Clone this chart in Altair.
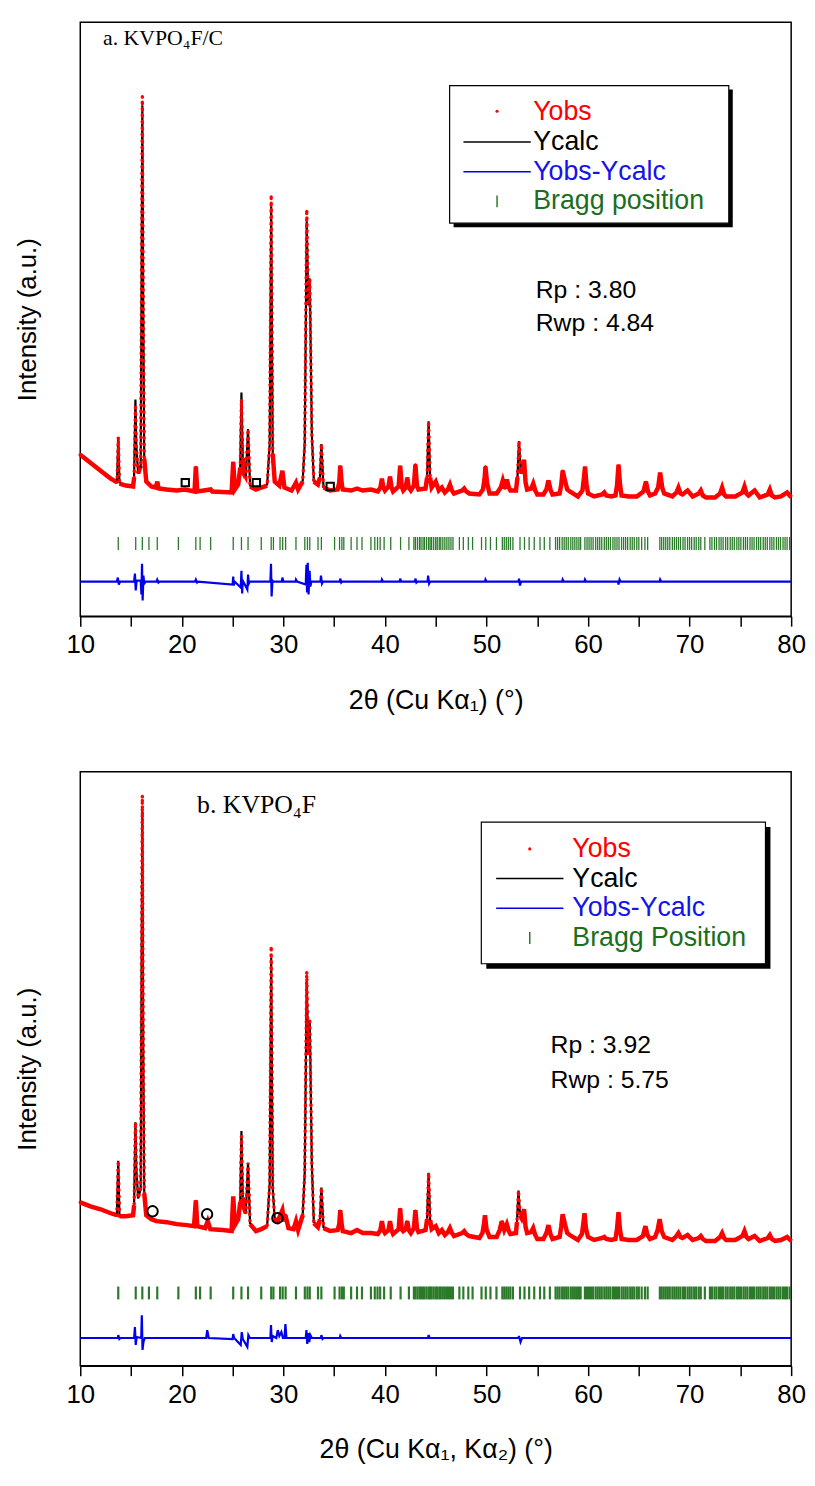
import altair as alt
import pandas as pd

# ---------------- panel a : KVPO4F/C  (2theta, Yobs in a.u.) ----------------
profile_a = [(10.0, 163), (10.5, 159), (11.0, 155), (11.5, 151), (12.0, 147), (12.5, 143), (13.0, 139),
             (13.5, 136), (13.62, 135), (13.74, 181), (13.86, 134), (14.5, 132), (15.2, 131), (15.3, 140),
             (15.43, 211), (15.52, 172), (15.7, 144), (15.95, 152), (16.04, 351), (16.11, 525), (16.2, 314),
             (16.3, 159), (16.5, 136), (17.0, 131), (17.45, 130), (17.58, 136), (17.72, 129), (18.5, 128),
             (19.5, 127), (20.3, 128), (21.25, 126), (21.38, 151), (21.52, 126), (22.84, 128), (23.0, 126),
             (24.9, 125), (25.06, 156), (25.22, 128), (25.55, 133), (25.75, 150), (25.87, 219), (26.0, 160),
             (26.1, 144), (26.3, 140), (26.52, 189), (26.72, 131), (27.3, 128), (27.82, 130), (28.4, 132),
             (28.65, 174), (28.8, 426), (28.95, 164), (29.15, 136), (29.6, 132), (29.9, 147), (30.1, 130),
             (30.8, 127), (31.24, 135), (31.45, 128), (31.9, 136), (32.1, 174), (32.3, 411), (32.45, 314),
             (32.6, 341), (32.8, 184), (33.0, 136), (33.4, 133), (33.6, 140), (33.74, 174), (33.95, 130),
             (34.6, 127), (35.35, 128), (35.5, 135), (35.6, 152), (35.75, 133), (35.85, 128), (36.67, 127),
             (37.25, 129), (37.8, 127), (38.62, 128), (39.3, 126), (39.55, 130), (39.7, 139), (39.85, 130),
             (40.0, 127), (40.35, 131), (40.5, 141), (40.65, 130), (40.8, 126), (41.35, 131), (41.5, 152),
             (41.65, 131), (41.8, 127), (42.05, 130), (42.2, 140), (42.35, 130), (42.55, 127), (42.85, 132),
             (43.0, 153), (43.15, 132), (43.3, 128), (44.0, 129), (44.15, 140), (44.3, 197), (44.45, 140),
             (44.6, 130), (45.0, 136), (45.3, 127), (45.6, 130), (45.9, 125), (46.2, 128), (46.4, 133),
             (46.6, 127), (46.8, 124), (47.6, 127), (47.8, 129), (48.0, 126), (48.3, 124), (49.3, 123),
             (49.65, 128), (49.8, 138), (49.9, 151), (50.05, 135), (50.3, 124), (51.0, 124), (51.4, 130),
             (51.6, 137), (51.8, 129), (52.0, 138), (52.2, 130), (52.35, 127), (52.9, 127), (53.05, 140),
             (53.2, 177), (53.35, 150), (53.45, 144), (53.7, 158), (53.85, 135), (54.0, 128), (54.4, 129),
             (54.6, 134), (54.8, 127), (55.0, 123), (55.6, 123), (55.9, 128), (56.1, 137), (56.3, 128),
             (56.5, 123), (57.2, 124), (57.35, 132), (57.5, 147), (57.75, 136), (57.95, 128), (58.2, 126),
             (59.0, 121), (59.45, 127), (59.6, 140), (59.7, 151), (59.85, 133), (60.0, 124), (60.6, 121),
             (61.4, 123), (61.6, 125), (61.8, 122), (62.3, 121), (62.7, 122), (62.85, 132), (63.0, 153),
             (63.15, 133), (63.3, 122), (64.0, 121), (64.8, 121), (65.45, 126), (65.7, 136), (65.9, 126),
             (66.1, 122), (66.6, 124), (66.9, 130), (67.1, 145), (67.3, 130), (67.5, 124), (68.3, 121),
             (68.7, 125), (68.9, 130), (69.1, 124), (69.3, 123), (69.8, 127), (70.3, 121), (70.9, 124),
             (71.1, 127), (71.3, 122), (71.6, 120), (72.5, 120), (73.0, 124), (73.2, 130), (73.4, 123),
             (73.6, 121), (74.5, 121), (75.2, 125), (75.4, 131), (75.6, 124), (75.8, 122), (76.4, 127),
             (76.9, 120), (77.7, 123), (77.9, 128), (78.1, 122), (78.4, 120), (79.0, 121), (79.6, 125),
             (80.0, 120)]
ycalc_peaks_a = {15.43: 219, 16.11: 516, 25.87: 226, 28.8: 414, 32.3: 399}

diff_a = [(10.0, 35), (13.6, 35), (13.7, 39), (13.8, 32), (13.9, 35), (15.3, 35), (15.38, 43), (15.46, 26),
          (15.55, 36), (15.95, 36), (16.02, 22), (16.08, 53), (16.14, 16), (16.22, 41), (16.3, 33),
          (16.45, 35), (17.5, 35), (17.58, 37), (17.7, 34), (17.8, 35), (21.3, 35), (21.38, 37),
          (21.5, 34), (21.6, 35), (25.0, 32), (25.06, 40), (25.12, 31), (25.2, 35), (25.8, 29),
          (25.87, 46), (25.94, 23), (26.0, 36), (26.45, 27), (26.52, 42), (26.6, 33), (26.7, 35),
          (28.72, 35), (28.78, 53), (28.84, 20), (28.92, 36), (29.0, 35), (29.85, 35), (29.9, 39),
          (30.0, 35), (31.2, 35), (31.24, 37), (31.35, 35), (32.2, 32), (32.27, 52), (32.33, 24),
          (32.4, 54), (32.48, 22), (32.58, 46), (32.66, 30), (32.75, 35), (33.65, 35), (33.7, 41),
          (33.8, 33), (33.9, 35), (35.55, 35), (35.6, 38), (35.7, 34), (35.8, 35), (39.65, 35),
          (39.7, 37), (39.8, 35), (41.45, 35), (41.5, 38), (41.6, 35), (42.95, 35), (43.0, 38),
          (43.1, 34), (43.2, 35), (44.2, 35), (44.25, 41), (44.35, 33), (44.45, 35), (49.85, 35),
          (49.9, 37), (50.0, 35), (53.15, 35), (53.2, 38), (53.3, 31), (53.4, 35), (57.45, 35),
          (57.5, 37), (57.6, 35), (59.65, 35), (59.7, 37), (59.8, 35), (62.95, 35), (63.0, 32),
          (63.1, 37), (63.2, 35), (67.05, 35), (67.1, 37), (67.2, 35), (80.0, 35)]

bragg_pos = [13.74, 15.46, 16.11, 16.76, 17.58, 19.66, 21.38, 21.80, 22.84, 25.06, 25.87, 26.52, 27.82,
             28.80, 29.02, 29.67, 29.93, 30.22, 31.24, 32.11, 32.37, 32.60, 33.41, 33.74, 35.04, 35.53,
             35.76, 35.95, 36.67, 37.25, 37.74, 38.62, 39.00, 39.27, 39.53, 39.92, 40.57, 41.54, 42.36,
             42.85, 43.00, 43.20, 43.40, 43.55, 43.75, 43.90, 44.10, 44.30, 44.45, 44.60, 44.80, 45.00,
             45.15, 45.35, 45.50, 45.70, 45.90, 46.10, 46.30, 46.50, 46.70, 47.33, 47.72, 48.21, 48.63,
             49.51, 49.93, 50.39, 50.98, 51.56, 51.75, 51.95, 52.15, 52.35, 52.60, 53.30, 53.74, 54.20,
             54.70, 55.27, 55.69, 56.24, 56.80, 57.00, 57.20, 57.45, 57.65, 57.85, 58.05, 58.30, 58.50,
             58.70, 58.90, 59.10, 59.27, 59.69, 59.90, 60.10, 60.30, 60.50, 60.75, 60.95, 61.15, 61.35,
             61.60, 61.80, 62.00, 62.20, 62.45, 62.65, 62.85, 63.05, 63.30, 63.50, 63.70, 63.90, 64.15,
             64.35, 64.55, 64.80, 65.00, 65.28, 65.60, 65.87, 67.07, 67.25, 67.45, 67.65, 67.85, 68.05,
             68.30, 68.50, 68.70, 68.90, 69.10, 69.35, 69.55, 69.80, 70.00, 70.20, 70.45, 70.65, 70.90,
             71.10, 71.50, 72.00, 72.20, 72.45, 72.65, 72.90, 73.10, 73.30, 73.55, 73.75, 74.00, 74.20,
             74.40, 74.65, 74.85, 75.05, 75.30, 75.50, 75.70, 75.95, 76.15, 76.35, 76.60, 76.80, 77.00,
             77.25, 77.45, 77.65, 77.90, 78.10, 78.30, 78.55, 78.75, 78.95, 79.20, 79.40, 79.60, 79.85]

square_marks = [(20.34, 135), (27.34, 135), (34.61, 131)]

# ---------------- panel b : KVPO4F ----------------
profile_b = [(10.0, 165), (10.5, 163), (11.0, 161), (12.0, 158), (13.0, 154), (13.6, 152), (13.74, 207),
             (13.86, 151), (14.5, 151), (15.2, 152), (15.3, 162), (15.43, 246), (15.52, 199), (15.7, 169),
             (15.95, 179), (16.04, 414), (16.11, 576), (16.2, 324), (16.3, 174), (16.5, 152), (17.0, 148),
             (17.5, 146), (18.5, 145), (19.5, 143), (20.5, 142), (21.2, 141), (21.38, 167), (21.52, 141),
             (22.3, 139), (22.55, 146), (22.8, 138), (24.0, 137), (24.9, 136), (25.06, 171), (25.22, 142),
             (25.55, 148), (25.75, 165), (25.87, 232), (26.0, 170), (26.1, 160), (26.3, 154), (26.52, 205),
             (26.72, 143), (27.3, 136), (27.82, 138), (28.4, 141), (28.65, 184), (28.8, 424), (28.95, 179),
             (29.15, 148), (29.45, 146), (29.7, 152), (29.9, 157), (30.05, 146), (30.2, 152), (30.5, 139),
             (31.0, 138), (31.24, 146), (31.45, 137), (31.9, 152), (32.1, 194), (32.3, 398), (32.45, 314),
             (32.6, 348), (32.8, 204), (33.0, 144), (33.4, 140), (33.6, 148), (33.74, 180), (33.95, 139),
             (34.6, 136), (35.35, 137), (35.5, 143), (35.6, 157), (35.75, 142), (35.85, 136), (36.67, 134),
             (37.25, 137), (37.8, 134), (38.62, 134), (39.3, 133), (39.55, 137), (39.7, 146), (39.85, 137),
             (40.0, 134), (40.35, 137), (40.5, 146), (40.65, 137), (40.8, 133), (41.35, 138), (41.5, 159),
             (41.65, 138), (41.8, 136), (42.05, 138), (42.2, 146), (42.35, 137), (42.55, 134), (42.85, 139),
             (43.0, 157), (43.15, 139), (43.3, 135), (44.0, 137), (44.15, 148), (44.3, 195), (44.45, 147),
             (44.6, 138), (45.0, 141), (45.3, 134), (45.6, 137), (45.9, 132), (46.2, 135), (46.4, 139),
             (46.6, 134), (46.8, 131), (47.6, 134), (47.8, 136), (48.0, 133), (48.3, 131), (49.3, 129),
             (49.6, 134), (49.75, 143), (49.85, 152), (50.0, 138), (50.3, 130), (51.0, 130), (51.3, 137),
             (51.5, 146), (51.75, 137), (52.0, 143), (52.2, 136), (52.35, 133), (52.9, 134), (53.0, 145),
             (53.15, 177), (53.3, 152), (53.45, 149), (53.7, 158), (53.85, 140), (54.0, 134), (54.4, 135),
             (54.6, 139), (54.8, 132), (55.0, 128), (55.6, 128), (55.9, 134), (56.1, 142), (56.3, 133),
             (56.5, 128), (57.2, 130), (57.35, 140), (57.5, 153), (57.75, 142), (57.95, 134), (58.2, 132),
             (59.0, 127), (59.4, 133), (59.55, 145), (59.65, 154), (59.8, 138), (60.0, 130), (60.6, 127),
             (61.4, 129), (61.6, 130), (61.8, 128), (62.3, 127), (62.7, 128), (62.85, 138), (63.0, 155),
             (63.15, 137), (63.3, 128), (64.0, 127), (64.8, 127), (65.4, 131), (65.65, 141), (65.85, 132),
             (66.1, 128), (66.6, 130), (66.85, 137), (67.05, 148), (67.25, 136), (67.5, 130), (68.3, 127),
             (68.7, 131), (68.9, 134), (69.1, 130), (69.3, 129), (69.8, 132), (70.3, 127), (70.9, 129),
             (71.1, 131), (71.3, 128), (71.6, 126), (72.5, 126), (73.0, 130), (73.2, 134), (73.4, 129),
             (73.6, 127), (74.5, 127), (75.2, 131), (75.4, 136), (75.6, 130), (75.8, 128), (76.4, 131),
             (76.9, 126), (77.7, 129), (77.9, 132), (78.1, 128), (78.4, 126), (79.0, 127), (79.6, 130),
             (80.0, 126)]
ycalc_peaks_b = {16.11: 561, 25.87: 237, 28.8: 412, 29.45: 136, 32.3: 389}

diff_b = [(10.0, 28), (13.7, 28), (13.74, 31), (13.85, 27), (13.95, 28), (15.3, 28), (15.38, 39), (15.46, 21),
          (15.55, 29), (16.0, 28), (16.06, 51), (16.13, 16), (16.22, 24), (16.35, 28), (22.4, 28),
          (22.5, 36), (22.65, 28), (25.0, 27), (25.06, 32), (25.15, 28), (25.8, 21), (25.9, 34), (26.0, 27),
          (26.45, 19), (26.55, 31), (26.7, 28), (28.72, 28), (28.78, 41), (28.85, 24), (28.95, 30),
          (29.3, 28), (29.45, 36), (29.6, 30), (29.8, 34), (29.95, 28), (30.1, 28), (30.2, 42), (30.3, 28),
          (32.2, 28), (32.27, 36), (32.35, 22), (32.45, 33), (32.55, 24), (32.65, 31), (32.8, 28),
          (33.7, 28), (33.74, 31), (33.85, 27), (33.95, 28), (35.55, 28), (35.6, 30), (35.7, 28),
          (44.25, 28), (44.3, 31), (44.4, 28), (53.15, 28), (53.2, 30), (53.35, 24), (53.5, 28), (80.0, 28)]

circle_marks = [(17.12, 156), (22.49, 153), (29.41, 149)]

# ---------------- texts ----------------
legend_labels_a = ["Yobs", "Ycalc", "Yobs-Ycalc", "Bragg position"]
legend_labels_b = ["Yobs", "Ycalc", "Yobs-Ycalc", "Bragg Position"]
legend_colors = ["#ff0000", "#000000", "#1414e6", "#1b6e1b"]
rp_a = ["Rp : 3.80", "Rwp : 4.84"]
rp_b = ["Rp : 3.92", "Rwp : 5.75"]
title_a = "a. KVPO\u2084F/C"
title_b = "b. KVPO\u2084F"
xtitle_a = "2\u03b8 (Cu K\u03b1\u2081) (\u00b0)"
xtitle_b = "2\u03b8 (Cu K\u03b1\u2081, K\u03b1\u2082) (\u00b0)"
ytitle = "Intensity (a.u.)"

# annotation layout, in data units (2theta, intensity)
leg_a = dict(box=(46.37, 73.86, 536, 397), sdx=0.39, sdy=4, dot=(51.04, 510), lx=(47.73, 54.36),
             ly=[479, 449], tick=(51.04, 425, 413), tx=54.6, ty=[509, 479, 449, 419])
leg_b = dict(box=(49.49, 77.47, 549, 406), sdx=0.49, sdy=5, dot=(54.26, 522), lx=(50.95, 57.58),
             ly=[492, 462], tick=(54.26, 438, 426), tx=58.45, ty=[522, 492, 462, 432])

SANS = "Liberation Sans, Arial, sans-serif"
SERIF = "Liberation Serif, Times New Roman, serif"

XSCALE = alt.Scale(domain=[10, 80], nice=False, zero=False)
YSCALE = alt.Scale(domain=[0, 600], nice=False, zero=False)


def xaxis(title):
    return alt.Axis(title=title, values=list(range(10, 81, 5)),
                    labelExpr="datum.value % 10 == 0 ? datum.label : ''",
                    tickSize=10, tickWidth=1.5, tickColor="black", domainColor="black",
                    domainWidth=1.5, grid=False, labelFont=SANS, labelFontSize=26,
                    labelColor="black", labelPadding=6, labelFlush=False, labelOverlap=False,
                    titleFont=SANS, titleFontSize=27, titleFontWeight="normal",
                    titleColor="black", titlePadding=30)


YAXIS = alt.Axis(title=ytitle, labels=False, ticks=False, domain=False, grid=False,
                 titleFont=SANS, titleFontSize=26, titleFontWeight="normal",
                 titleColor="black", titlePadding=40)


def panel(profile, calc_peaks, thr, diff, bragg_w, marks_xy, mk_shape, mk_size,
          leg, leg_labels, title, title_size, title_pos, rp, rp_pos, xtitle):
    X = lambda f: alt.X(f"{f}:Q", scale=XSCALE, axis=xaxis(xtitle))
    Y = lambda f: alt.Y(f"{f}:Q", scale=YSCALE, axis=YAXIS)

    tt = [p[0] for p in profile]
    yobs = [p[1] for p in profile]
    ycalc = [calc_peaks.get(t, y) for t, y in zip(tt, yobs)]
    n = len(tt)
    tall = [c > thr for c in ycalc]
    show = [tall[i] or (i > 0 and tall[i - 1]) or (i < n - 1 and tall[i + 1]) for i in range(n)]
    calc_top = [c if s else None for c, s in zip(ycalc, show)]
    obs_low = [None if t else y for y, t in zip(yobs, tall)]
    prof = pd.DataFrame({"tt": tt, "yobs": yobs, "ycalc": ycalc, "calc_top": calc_top,
                         "obs_low": obs_low})

    obs_band = alt.Chart(prof).mark_line(color="#ff0000", strokeWidth=4.5,
                                         invalid="break-paths-show-domains").encode(
        x=X("tt"), y=Y("obs_low"))
    calc_line = alt.Chart(prof).mark_line(color="black", strokeWidth=2.2,
                                          invalid="break-paths-show-domains").encode(
        x=X("tt"), y=Y("calc_top"))
    obs_dots = alt.Chart(prof).mark_line(color="#ff0000", strokeWidth=3.4, strokeCap="round",
                                         strokeDash=[0.5, 6]).encode(x=X("tt"), y=Y("yobs"))

    bdf = pd.DataFrame({"tt": bragg_pos, "top": [80] * len(bragg_pos), "bot": [67] * len(bragg_pos)})
    bragg = alt.Chart(bdf).mark_rule(color="#2a7a2a", strokeWidth=bragg_w).encode(
        x=X("tt"), y=Y("top"), y2="bot")

    ddf = pd.DataFrame({"tt": [d[0] for d in diff], "d": [d[1] for d in diff]})
    dline = alt.Chart(ddf).mark_line(color="#0000ee", strokeWidth=2.2).encode(x=X("tt"), y=Y("d"))

    mdf = pd.DataFrame({"tt": [m[0] for m in marks_xy], "y": [m[1] for m in marks_xy]})
    marks = alt.Chart(mdf).mark_point(shape=mk_shape, filled=False, color="black", size=mk_size,
                                      strokeWidth=2, opacity=1).encode(x=X("tt"), y=Y("y"))

    x0, x1, y0, y1 = leg["box"]
    sh = pd.DataFrame({"x": [x0 + leg["sdx"]], "x2": [x1 + leg["sdx"]],
                       "y": [y0 - leg["sdy"]], "y2": [y1 - leg["sdy"]]})
    shadow = alt.Chart(sh).mark_rect(color="black").encode(x=X("x"), x2="x2", y=Y("y"), y2="y2")
    bx = pd.DataFrame({"x": [x0], "x2": [x1], "y": [y0], "y2": [y1]})
    box = alt.Chart(bx).mark_rect(fill="white", stroke="black", strokeWidth=1.2).encode(
        x=X("x"), x2="x2", y=Y("y"), y2="y2")
    dot = alt.Chart(pd.DataFrame({"x": [leg["dot"][0]], "y": [leg["dot"][1]]})).mark_point(
        filled=True, color="#ff0000", size=10, opacity=1).encode(x=X("x"), y=Y("y"))
    ldf = pd.DataFrame({"x": [leg["lx"][0]] * 2, "x2": [leg["lx"][1]] * 2, "y": leg["ly"],
                        "c": ["#000000", "#0000ee"]})
    lines = alt.Chart(ldf).mark_rule(strokeWidth=1.5).encode(
        x=X("x"), x2="x2", y=Y("y"), color=alt.Color("c:N", scale=None))
    tdf = pd.DataFrame({"x": [leg["tick"][0]], "y": [leg["tick"][1]], "y2": [leg["tick"][2]]})
    ltick = alt.Chart(tdf).mark_rule(color="#2a7a2a", strokeWidth=1.5).encode(
        x=X("x"), y=Y("y"), y2="y2")
    txt = pd.DataFrame({"x": [leg["tx"]] * 4, "y": leg["ty"], "label": leg_labels, "c": legend_colors})
    ltext = alt.Chart(txt).mark_text(align="left", baseline="middle", font=SANS, fontSize=27).encode(
        x=X("x"), y=Y("y"), text="label:N", color=alt.Color("c:N", scale=None))

    rdf = pd.DataFrame({"x": [rp_pos[0]] * 2, "y": rp_pos[1:], "label": rp})
    rtext = alt.Chart(rdf).mark_text(align="left", baseline="middle", font=SANS, fontSize=25,
                                     color="black").encode(x=X("x"), y=Y("y"), text="label:N")

    tdf2 = pd.DataFrame({"x": [title_pos[0]], "y": [title_pos[1]], "label": [title]})
    ttext = alt.Chart(tdf2).mark_text(align="left", baseline="middle", font=SERIF,
                                      fontSize=title_size, color="black").encode(
        x=X("x"), y=Y("y"), text="label:N")

    return alt.layer(obs_band, calc_line, obs_dots, bragg, dline, marks, shadow, box, dot, lines,
                     ltick, ltext, rtext, ttext).properties(width=718, height=600)


pa = panel(profile_a, ycalc_peaks_a, 165, diff_a, 1.3, square_marks, "square", 55,
           leg_a, legend_labels_a, title_a, 22, (12.24, 584), rp_a, (54.85, 329, 296), xtitle_a)
pb = panel(profile_b, ycalc_peaks_b, 175, diff_b, 2.2, circle_marks, "circle", 110,
           leg_b, legend_labels_b, title_b, 26, (21.5, 566), rp_b, (56.31, 324, 289), xtitle_b)

chart = alt.vconcat(pa, pb, spacing=57).properties(
    padding={"left": 6, "top": 6, "right": 0, "bottom": 0},
    background="white",
).configure_view(stroke="black", strokeWidth=1.5)

chart.save("out.html", embed_options={"renderer": "svg", "actions": False})
